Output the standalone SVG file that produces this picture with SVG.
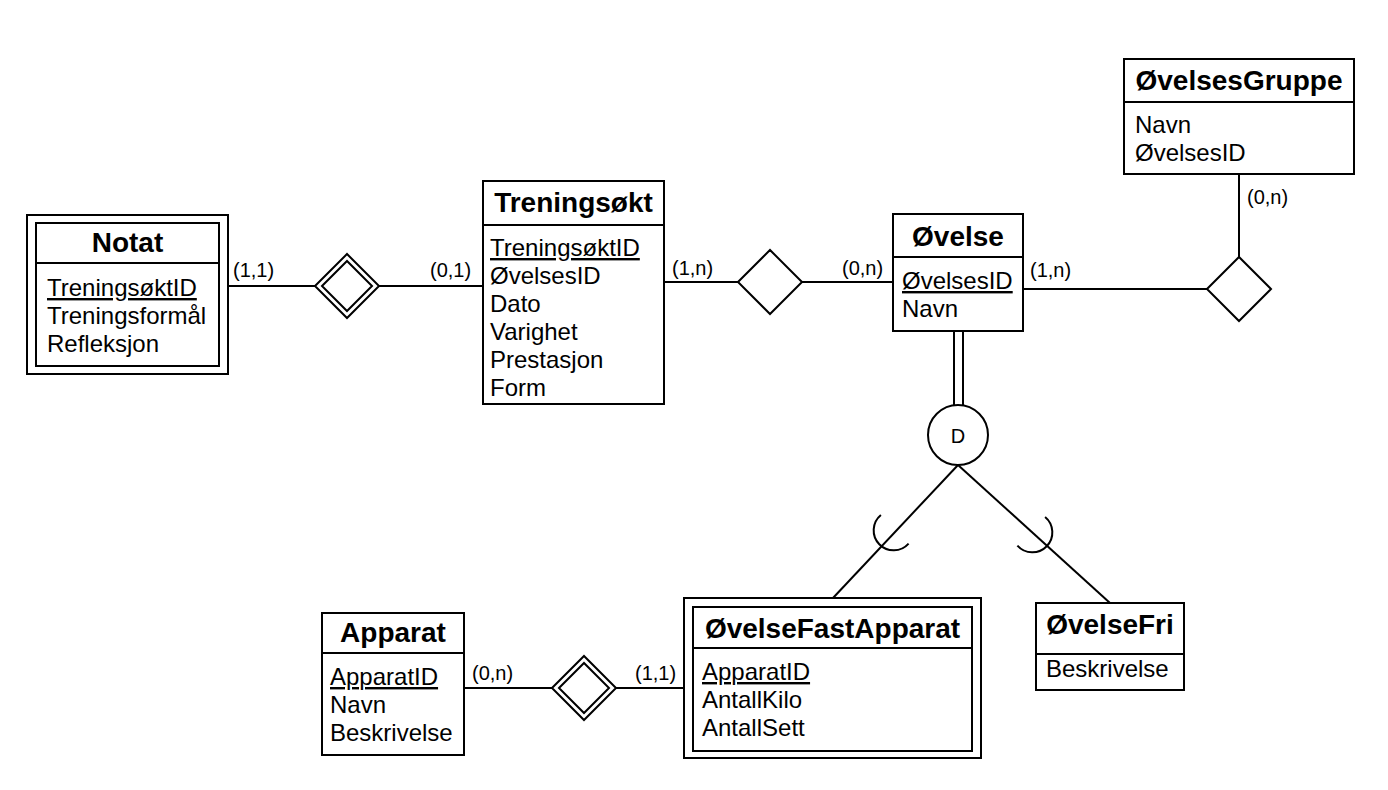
<svg xmlns="http://www.w3.org/2000/svg" width="1388" height="790" viewBox="0 0 1388 790">
<style>
.box{fill:#fff;stroke:#000;stroke-width:2}
.ln{fill:none;stroke:#000;stroke-width:2}
.t{font-family:"Liberation Sans",Arial,sans-serif;font-size:28px;font-weight:bold;text-anchor:middle;fill:#000}
.a{font-family:"Liberation Sans",Arial,sans-serif;font-size:24px;fill:#000}
.l{font-family:"Liberation Sans",Arial,sans-serif;font-size:20px;fill:#000}
.u{text-decoration:underline}
</style>
<rect width="1388" height="790" fill="#fff"/>
<g id="connectors">
<line class="ln" x1="228" y1="286" x2="315" y2="286"/>
<line class="ln" x1="379" y1="286" x2="483" y2="286"/>
<line class="ln" x1="664" y1="282" x2="738" y2="282"/>
<line class="ln" x1="802" y1="282" x2="893" y2="282"/>
<line class="ln" x1="1023" y1="289" x2="1207" y2="289"/>
<line class="ln" x1="1239" y1="257" x2="1239" y2="174"/>
<line class="ln" x1="954" y1="331" x2="954" y2="406"/>
<line class="ln" x1="963" y1="331" x2="963" y2="406"/>
<line class="ln" x1="958" y1="465" x2="833" y2="598"/>
<line class="ln" x1="958" y1="465" x2="1110" y2="603"/>
<path class="ln" d="M880.9,514.9 A20,20 0 1 0 908.6,543.6"/>
<path class="ln" d="M1045.1,516.9 A20,20 0 1 1 1017.4,545.6"/>
<line class="ln" x1="464" y1="688" x2="552" y2="688"/>
<line class="ln" x1="616" y1="688" x2="684" y2="688"/>
<text class="l" x="233" y="277">(1,1)</text>
<text class="l" x="430" y="277">(0,1)</text>
<text class="l" x="672" y="275">(1,n)</text>
<text class="l" x="842" y="275">(0,n)</text>
<text class="l" x="1030" y="277">(1,n)</text>
<text class="l" x="1247" y="204">(0,n)</text>
<text class="l" x="472" y="680">(0,n)</text>
<text class="l" x="635" y="680">(1,1)</text>
</g>
<g id="notat">
<rect class="box" x="27" y="215" width="201" height="159"/>
<rect class="box" x="36" y="223" width="183" height="143"/>
<line class="ln" x1="36" y1="263" x2="219" y2="263"/>
<text class="t" x="127.5" y="252">Notat</text>
<text class="a u" x="47" y="296">TreningsøktID</text>
<text class="a" x="47" y="324">Treningsformål</text>
<text class="a" x="47" y="352">Refleksjon</text>
</g>
<g id="rel-notat">
<polygon class="box" points="315,286 347,254 379,286 347,318"/>
<polygon class="box" points="322,286 347,261 372,286 347,311"/>
</g>
<g id="treningsokt">
<rect class="box" x="483" y="181" width="181" height="223"/>
<line class="ln" x1="483" y1="225" x2="664" y2="225"/>
<text class="t" x="573.5" y="212">Treningsøkt</text>
<text class="a u" x="490" y="256">TreningsøktID</text>
<text class="a" x="490" y="284">ØvelsesID</text>
<text class="a" x="490" y="312">Dato</text>
<text class="a" x="490" y="340">Varighet</text>
<text class="a" x="490" y="368">Prestasjon</text>
<text class="a" x="490" y="396">Form</text>
</g>
<g id="rel-trening-ovelse">
<polygon class="box" points="738,282 770,250 802,282 770,314"/>
</g>
<g id="ovelse">
<rect class="box" x="893" y="214" width="130" height="117"/>
<line class="ln" x1="893" y1="257" x2="1023" y2="257"/>
<text class="t" x="958" y="246">Øvelse</text>
<text class="a u" x="902" y="289">ØvelsesID</text>
<text class="a" x="902" y="317">Navn</text>
</g>
<g id="rel-gruppe">
<polygon class="box" points="1207,289 1239,257 1271,289 1239,321"/>
</g>
<g id="ovelsesgruppe">
<rect class="box" x="1124" y="59" width="230" height="115"/>
<line class="ln" x1="1124" y1="102" x2="1354" y2="102"/>
<text class="t" x="1239" y="90">ØvelsesGruppe</text>
<text class="a" x="1135" y="133">Navn</text>
<text class="a" x="1135" y="161">ØvelsesID</text>
</g>
<g id="disjoint">
<circle class="box" cx="958" cy="435" r="30"/>
<text class="l" x="958" y="443" text-anchor="middle">D</text>
</g>
<g id="ovelsefastapparat">
<rect class="box" x="684" y="598" width="297" height="160"/>
<rect class="box" x="693" y="607" width="279" height="144"/>
<line class="ln" x1="693" y1="648" x2="972" y2="648"/>
<text class="t" x="832.5" y="638">ØvelseFastApparat</text>
<text class="a u" x="702" y="680">ApparatID</text>
<text class="a" x="702" y="708">AntallKilo</text>
<text class="a" x="702" y="736">AntallSett</text>
</g>
<g id="ovelsefri">
<rect class="box" x="1036" y="603" width="148" height="87"/>
<line class="ln" x1="1036" y1="654" x2="1184" y2="654"/>
<text class="t" x="1110" y="634">ØvelseFri</text>
<text class="a" x="1046" y="677">Beskrivelse</text>
</g>
<g id="rel-apparat">
<polygon class="box" points="552,688 584,656 616,688 584,720"/>
<polygon class="box" points="559,688 584,663 609,688 584,713"/>
</g>
<g id="apparat">
<rect class="box" x="322" y="613" width="142" height="142"/>
<line class="ln" x1="322" y1="653" x2="464" y2="653"/>
<text class="t" x="393" y="642">Apparat</text>
<text class="a u" x="330" y="685">ApparatID</text>
<text class="a" x="330" y="713">Navn</text>
<text class="a" x="330" y="741">Beskrivelse</text>
</g>
</svg>
